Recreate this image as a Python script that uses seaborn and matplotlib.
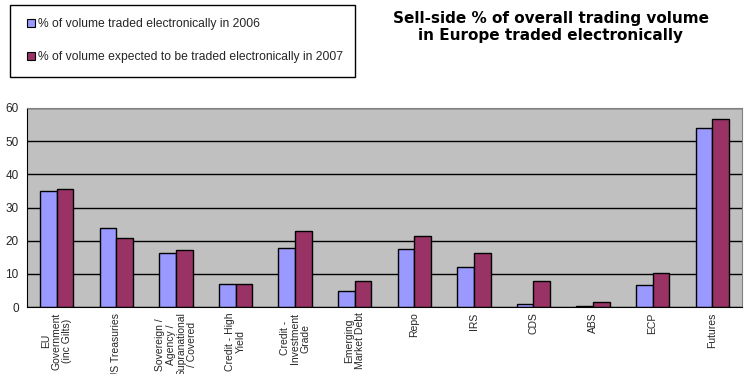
import matplotlib
matplotlib.use("Agg")
import matplotlib.pyplot as plt
import seaborn as sns
import pandas as pd
import numpy as np
from matplotlib.patches import Patch, Rectangle

categories = ["EU\nGovernment\n(inc Gilts)", "US Treasuries", "Sovereign /\nAgency /\nSupranational\n/ Covered",
              "Credit - High\nYield", "Credit -\nInvestment\nGrade", "Emerging\nMarket Debt",
              "Repo", "IRS", "CDS", "ABS", "ECP", "Futures"]
vals_2006 = [35.0, 23.8, 16.3, 7.0, 17.7, 4.7, 17.4, 12.0, 0.9, 0.2, 6.6, 54.0]
vals_2007 = [35.5, 20.7, 17.3, 7.0, 22.8, 7.7, 21.4, 16.3, 7.7, 1.6, 10.4, 56.6]
series = ["% of volume traded electronically in 2006",
          "% of volume expected to be traded electronically in 2007"]
colors = ["#9999FF", "#993366"]

df = pd.DataFrame({
    "cat": categories * 2,
    "val": vals_2006 + vals_2007,
    "series": [series[0]] * len(categories) + [series[1]] * len(categories),
})

sns.set_style("white")
plt.rcParams["font.family"] = ["Liberation Sans", "DejaVu Sans"]

W, H = 747, 374
fig = plt.figure(figsize=(W/100, H/100), dpi=100)
ax = fig.add_axes([27/W, 1 - 307/H, (742-27)/W, (307-108)/H])
sns.barplot(data=df, x="cat", y="val", hue="series", palette=colors, width=0.56,
            edgecolor="black", linewidth=1.0, ax=ax, legend=False, saturation=1)
ax.set_facecolor("#C0C0C0")
ax.set_ylim(0, 60)
ax.set_xlim(-0.5, len(categories) - 0.5)
ax.set_yticks(range(0, 61, 10))
ax.yaxis.grid(True, color="black", linewidth=1.0)
ax.set_axisbelow(True)
ax.set_xlabel("")
ax.set_ylabel("")
for s in ["top", "right"]:
    ax.spines[s].set_color("#808080")
for s in ["left", "bottom"]:
    ax.spines[s].set_color("black")
ax.set_xticks(range(len(categories)))
ax.set_xticklabels(categories, rotation=90, fontsize=7.5, va="top", ha="center",
                   multialignment="center", linespacing=1.05)
ax.tick_params(axis="x", length=0, pad=4)
ax.set_xticks(np.arange(-0.5, len(categories), 1.0), minor=True)
ax.tick_params(axis="x", which="minor", length=4, color="black", direction="out")
ax.tick_params(axis="y", length=4, color="black", direction="out", labelsize=8.5, pad=2)

# Legend box
fig.patches.append(Rectangle((10/W, 1 - 77/H), (355-10)/W, (77-5)/H, transform=fig.transFigure,
                             facecolor="white", edgecolor="black", linewidth=1.0))
handles = [Patch(facecolor=colors[0], edgecolor="black", linewidth=0.8),
           Patch(facecolor=colors[1], edgecolor="black", linewidth=0.8)]
leg = fig.legend(handles, series, loc="upper left", bbox_to_anchor=(27/W, 1 - 18/H),
                 fontsize=8.7, frameon=False,
                 handlelength=0.65, handleheight=0.65, handletextpad=0.3,
                 labelspacing=1.75, borderpad=0, borderaxespad=0)

fig.text(551/W, 1 - 27/H, "Sell-side % of overall trading volume\nin Europe traded electronically",
         ha="center", va="center", fontsize=11, fontweight="bold", family="DejaVu Sans",
         color="black", linespacing=1.15)

fig.savefig("out.png", dpi=100)
